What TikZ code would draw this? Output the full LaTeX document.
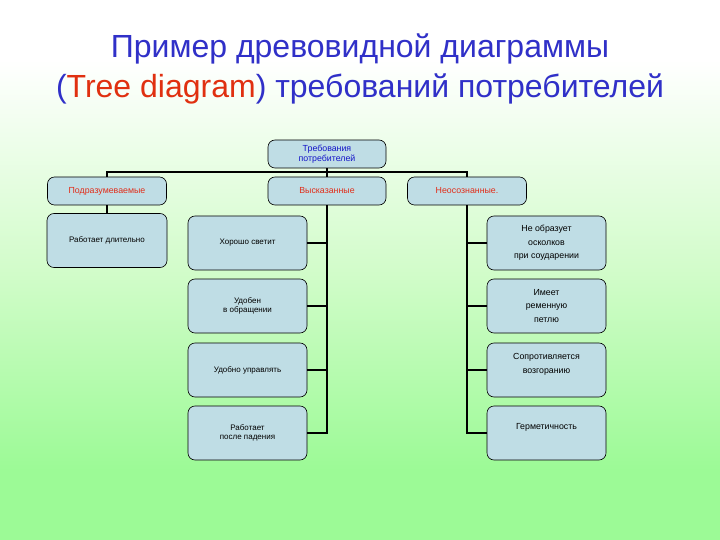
\documentclass[tikz,border=0pt]{standalone}
\usepackage{fontspec}
\setmainfont{Liberation Sans}
\definecolor{bgtop}{RGB}{255,255,255}
\definecolor{bgmid}{RGB}{210,252,202}
\definecolor{bgbot}{RGB}{156,250,150}
\definecolor{boxfill}{RGB}{191,221,229}
\definecolor{titleblue}{RGB}{48,48,200}
\definecolor{titlered}{RGB}{224,48,16}
\definecolor{lblred}{RGB}{225,45,25}
\definecolor{lblblue}{RGB}{20,20,200}
\tikzset{
  treebox/.style={draw=black, line width=0.6pt, fill=boxfill, rounded corners=7pt,
    minimum width=119pt, minimum height=54pt, inner sep=1pt, align=center,
    font=\fontsize{8}{9.5}\selectfont},
  headbox/.style={treebox, minimum height=28pt, font=\fontsize{8.8}{10}\selectfont},
  rightbox/.style={treebox, font=\fontsize{8.8}{13.5}\selectfont},
  link/.style={draw=black, line width=2pt},
  titletext/.style={font=\fontsize{32}{40}\selectfont, text=titleblue, align=center}
}
\begin{document}
\begin{tikzpicture}[x=1pt, y=-1pt]
\useasboundingbox (0,0) rectangle (720,540);
\fill[bgtop] (0,0) rectangle (720,60);
\shade[top color=bgtop, bottom color=bgmid] (0,59.5) rectangle (720,270);
\shade[top color=bgmid, bottom color=bgbot] (0,270) rectangle (720,470);
\fill[bgbot] (0,469.5) rectangle (720,540);

\node[titletext] (title) at (360,69) {Пример древовидной диаграммы\\(\textcolor{titlered}{Tree diagram}) требований потребителей};

\node[headbox, minimum width=118pt, text=lblblue] (root) at (327,154) {Требования\\потребителей};
\node[headbox, text=lblred] (p) at (107,191) {Подразумеваемые};
\node[headbox, minimum width=118pt, text=lblred] (v) at (327,191) {Высказанные};
\node[headbox, text=lblred] (n) at (467,191) {Неосознанные.};

\node[treebox, minimum width=120pt] (p1) at (107,240.5) {Работает длительно};

\node[treebox] (l1) at (247.5,243) {Хорошо светит};
\node[treebox] (l2) at (247.5,306) {Удобен\\в обращении};
\node[treebox] (l3) at (247.5,370) {Удобно управлять};
\node[treebox] (l4) at (247.5,433) {Работает\\после падения};

\node[rightbox] (r1) at (546.5,243) {Не образует\\осколков\\при соударении};
\node[rightbox] (r2) at (546.5,306) {Имеет\\ременную\\петлю};
\node[rightbox] (r3) at (546.5,370) {Сопротивляется\\возгоранию\\\mbox{}};
\node[rightbox] (r4) at (546.5,433) {Герметичность\\\mbox{}};

\coordinate (bus) at (327,172);
\draw[link] (root.south) -- (v.north);
\draw[link] (p.north) |- (bus) -| (n.north);
\draw[link] (p.south) -- (p1.north);

\draw[link] (v.south) -- (v.south |- l4.east) -- (l4.east);
\draw[link] (l1.east) -- (v.south |- l1.east);
\draw[link] (l2.east) -- (v.south |- l2.east);
\draw[link] (l3.east) -- (v.south |- l3.east);

\draw[link] (n.south) -- (n.south |- r4.west) -- (r4.west);
\draw[link] (r1.west) -- (n.south |- r1.west);
\draw[link] (r2.west) -- (n.south |- r2.west);
\draw[link] (r3.west) -- (n.south |- r3.west);
\end{tikzpicture}
\end{document}
